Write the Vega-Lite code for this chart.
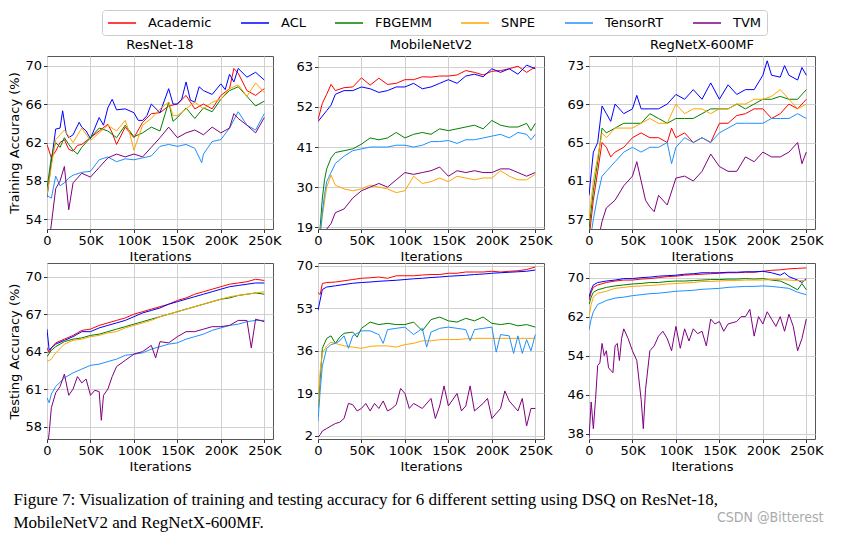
{
"$schema":"https://vega.github.io/schema/vega-lite/v6.json",
"background":"white",
"padding":{"left":8,"right":12,"top":9,"bottom":4},
"title":{"text":"CSDN @Bitterest","orient":"bottom","anchor":"end","font":"Liberation Sans Narrow, DejaVu Sans Condensed, Roboto","fontSize":14,"fontWeight":"normal","color":"#aaaaaa","offset":-20},
"datasets":{
"r18tr":[
{"s":"Academic","x":0,"y":61.8},{"s":"Academic","x":5,"y":60.4},{"s":"Academic","x":10,"y":61.1},{"s":"Academic","x":15,"y":62},{"s":"Academic","x":20,"y":62.3},{"s":"Academic","x":25,"y":61.3},{"s":"Academic","x":30,"y":61.1},{"s":"Academic","x":35,"y":61.7},{"s":"Academic","x":40,"y":61.8},{"s":"Academic","x":50,"y":62.5},{"s":"Academic","x":60,"y":63.2},{"s":"Academic","x":70,"y":63.9},{"s":"Academic","x":75,"y":63},{"s":"Academic","x":80,"y":61.8},{"s":"Academic","x":90,"y":63.6},{"s":"Academic","x":100,"y":62.5},{"s":"Academic","x":110,"y":64.1},{"s":"Academic","x":120,"y":65},{"s":"Academic","x":130,"y":65.1},{"s":"Academic","x":140,"y":65.8},{"s":"Academic","x":150,"y":66},{"s":"Academic","x":160,"y":66.9},{"s":"Academic","x":170,"y":65.5},{"s":"Academic","x":180,"y":66},{"s":"Academic","x":190,"y":65.5},{"s":"Academic","x":200,"y":66.9},{"s":"Academic","x":210,"y":67.6},{"s":"Academic","x":215,"y":69.7},{"s":"Academic","x":220,"y":69.2},{"s":"Academic","x":230,"y":67.4},{"s":"Academic","x":240,"y":66.9},{"s":"Academic","x":250,"y":67.6},
{"s":"ACL","x":0,"y":56.3},{"s":"ACL","x":5,"y":60},{"s":"ACL","x":10,"y":63.4},{"s":"ACL","x":15,"y":63.5},{"s":"ACL","x":18,"y":65.3},{"s":"ACL","x":22,"y":63},{"s":"ACL","x":25,"y":62.5},{"s":"ACL","x":30,"y":62.8},{"s":"ACL","x":37,"y":64.1},{"s":"ACL","x":40,"y":63.6},{"s":"ACL","x":45,"y":63.2},{"s":"ACL","x":50,"y":62.4},{"s":"ACL","x":55,"y":63.5},{"s":"ACL","x":60,"y":64.6},{"s":"ACL","x":65,"y":63.8},{"s":"ACL","x":70,"y":65.6},{"s":"ACL","x":75,"y":66.5},{"s":"ACL","x":80,"y":65.4},{"s":"ACL","x":90,"y":65.5},{"s":"ACL","x":100,"y":65.1},{"s":"ACL","x":105,"y":64.3},{"s":"ACL","x":110,"y":64.3},{"s":"ACL","x":115,"y":64.8},{"s":"ACL","x":120,"y":66},{"s":"ACL","x":130,"y":65.1},{"s":"ACL","x":140,"y":67.6},{"s":"ACL","x":145,"y":66},{"s":"ACL","x":150,"y":66},{"s":"ACL","x":155,"y":66.5},{"s":"ACL","x":160,"y":68.3},{"s":"ACL","x":165,"y":66.4},{"s":"ACL","x":170,"y":66.2},{"s":"ACL","x":175,"y":67.8},{"s":"ACL","x":180,"y":67.4},{"s":"ACL","x":190,"y":67},{"s":"ACL","x":200,"y":68.1},{"s":"ACL","x":205,"y":67.5},{"s":"ACL","x":210,"y":69.1},{"s":"ACL","x":215,"y":68.3},{"s":"ACL","x":220,"y":69.7},{"s":"ACL","x":230,"y":68.8},{"s":"ACL","x":240,"y":69.3},{"s":"ACL","x":245,"y":68.9},{"s":"ACL","x":250,"y":68.5},
{"s":"FBGEMM","x":0,"y":57.2},{"s":"FBGEMM","x":5,"y":60.5},{"s":"FBGEMM","x":10,"y":62},{"s":"FBGEMM","x":15,"y":61.5},{"s":"FBGEMM","x":20,"y":62.5},{"s":"FBGEMM","x":25,"y":61.8},{"s":"FBGEMM","x":30,"y":61.2},{"s":"FBGEMM","x":35,"y":60.8},{"s":"FBGEMM","x":40,"y":61.5},{"s":"FBGEMM","x":50,"y":62.5},{"s":"FBGEMM","x":60,"y":63.5},{"s":"FBGEMM","x":70,"y":63.2},{"s":"FBGEMM","x":80,"y":62.5},{"s":"FBGEMM","x":90,"y":63.8},{"s":"FBGEMM","x":100,"y":62.6},{"s":"FBGEMM","x":110,"y":63},{"s":"FBGEMM","x":120,"y":63.6},{"s":"FBGEMM","x":130,"y":63.2},{"s":"FBGEMM","x":140,"y":66.2},{"s":"FBGEMM","x":145,"y":64.2},{"s":"FBGEMM","x":150,"y":64.6},{"s":"FBGEMM","x":160,"y":65.6},{"s":"FBGEMM","x":170,"y":64.5},{"s":"FBGEMM","x":180,"y":65.6},{"s":"FBGEMM","x":190,"y":65.2},{"s":"FBGEMM","x":200,"y":66.5},{"s":"FBGEMM","x":210,"y":67.4},{"s":"FBGEMM","x":220,"y":67.8},{"s":"FBGEMM","x":230,"y":66.8},{"s":"FBGEMM","x":240,"y":65.8},{"s":"FBGEMM","x":250,"y":66.3},
{"s":"SNPE","x":0,"y":56.5},{"s":"SNPE","x":5,"y":59.5},{"s":"SNPE","x":10,"y":62.3},{"s":"SNPE","x":20,"y":63.3},{"s":"SNPE","x":30,"y":62},{"s":"SNPE","x":40,"y":63.5},{"s":"SNPE","x":50,"y":62.2},{"s":"SNPE","x":60,"y":63},{"s":"SNPE","x":70,"y":63.8},{"s":"SNPE","x":80,"y":63.2},{"s":"SNPE","x":90,"y":64.3},{"s":"SNPE","x":95,"y":63},{"s":"SNPE","x":100,"y":61.2},{"s":"SNPE","x":105,"y":62.5},{"s":"SNPE","x":110,"y":63.8},{"s":"SNPE","x":120,"y":64.5},{"s":"SNPE","x":130,"y":65.5},{"s":"SNPE","x":140,"y":66.2},{"s":"SNPE","x":145,"y":64.8},{"s":"SNPE","x":150,"y":64.8},{"s":"SNPE","x":160,"y":65.5},{"s":"SNPE","x":170,"y":66.2},{"s":"SNPE","x":180,"y":65.5},{"s":"SNPE","x":190,"y":66.2},{"s":"SNPE","x":200,"y":66.5},{"s":"SNPE","x":210,"y":67.6},{"s":"SNPE","x":220,"y":68},{"s":"SNPE","x":230,"y":66.8},{"s":"SNPE","x":240,"y":68.2},{"s":"SNPE","x":250,"y":67.2},
{"s":"TensorRT","x":0,"y":56.5},{"s":"TensorRT","x":5,"y":56.2},{"s":"TensorRT","x":10,"y":58.5},{"s":"TensorRT","x":15,"y":57.5},{"s":"TensorRT","x":20,"y":57.8},{"s":"TensorRT","x":25,"y":58.3},{"s":"TensorRT","x":30,"y":58.6},{"s":"TensorRT","x":40,"y":58.9},{"s":"TensorRT","x":50,"y":59},{"s":"TensorRT","x":60,"y":60.2},{"s":"TensorRT","x":70,"y":60.5},{"s":"TensorRT","x":80,"y":60},{"s":"TensorRT","x":90,"y":60.3},{"s":"TensorRT","x":100,"y":60.2},{"s":"TensorRT","x":110,"y":60.4},{"s":"TensorRT","x":120,"y":60.6},{"s":"TensorRT","x":130,"y":61.6},{"s":"TensorRT","x":140,"y":61.8},{"s":"TensorRT","x":150,"y":61.6},{"s":"TensorRT","x":160,"y":61.8},{"s":"TensorRT","x":170,"y":61.4},{"s":"TensorRT","x":178,"y":59.9},{"s":"TensorRT","x":180,"y":60.8},{"s":"TensorRT","x":190,"y":62.1},{"s":"TensorRT","x":200,"y":62.3},{"s":"TensorRT","x":210,"y":63.5},{"s":"TensorRT","x":220,"y":65.2},{"s":"TensorRT","x":230,"y":63.8},{"s":"TensorRT","x":240,"y":63.3},{"s":"TensorRT","x":250,"y":65},
{"s":"TVM","x":0,"y":50},{"s":"TVM","x":5,"y":53.5},{"s":"TVM","x":10,"y":57.2},{"s":"TVM","x":15,"y":58},{"s":"TVM","x":20,"y":59.5},{"s":"TVM","x":25,"y":55},{"s":"TVM","x":30,"y":57.8},{"s":"TVM","x":40,"y":58.8},{"s":"TVM","x":50,"y":58.4},{"s":"TVM","x":60,"y":59.4},{"s":"TVM","x":70,"y":60.4},{"s":"TVM","x":80,"y":60.8},{"s":"TVM","x":90,"y":60.5},{"s":"TVM","x":100,"y":60.8},{"s":"TVM","x":110,"y":60.5},{"s":"TVM","x":120,"y":61.5},{"s":"TVM","x":130,"y":62.5},{"s":"TVM","x":140,"y":63.6},{"s":"TVM","x":150,"y":62.5},{"s":"TVM","x":160,"y":63},{"s":"TVM","x":170,"y":63.3},{"s":"TVM","x":180,"y":62.8},{"s":"TVM","x":190,"y":63.6},{"s":"TVM","x":200,"y":63},{"s":"TVM","x":210,"y":63.5},{"s":"TVM","x":215,"y":65},{"s":"TVM","x":220,"y":64.5},{"s":"TVM","x":230,"y":63.8},{"s":"TVM","x":240,"y":63},{"s":"TVM","x":250,"y":64.6}
],
"mbtr":[
{"s":"Academic","x":0,"y":48.5},{"s":"Academic","x":5,"y":53},{"s":"Academic","x":10,"y":55.5},{"s":"Academic","x":15,"y":58.2},{"s":"Academic","x":20,"y":56.5},{"s":"Academic","x":30,"y":57.3},{"s":"Academic","x":40,"y":57.5},{"s":"Academic","x":50,"y":60},{"s":"Academic","x":60,"y":58},{"s":"Academic","x":70,"y":59.9},{"s":"Academic","x":80,"y":58.2},{"s":"Academic","x":90,"y":58.5},{"s":"Academic","x":100,"y":59.5},{"s":"Academic","x":110,"y":59.5},{"s":"Academic","x":120,"y":60.3},{"s":"Academic","x":130,"y":60.2},{"s":"Academic","x":140,"y":60.5},{"s":"Academic","x":150,"y":60.5},{"s":"Academic","x":160,"y":60.8},{"s":"Academic","x":170,"y":62},{"s":"Academic","x":180,"y":61.5},{"s":"Academic","x":190,"y":60.8},{"s":"Academic","x":200,"y":61.8},{"s":"Academic","x":210,"y":62},{"s":"Academic","x":220,"y":62.5},{"s":"Academic","x":230,"y":63.2},{"s":"Academic","x":240,"y":61.5},{"s":"Academic","x":250,"y":63},
{"s":"ACL","x":0,"y":48},{"s":"ACL","x":5,"y":49.5},{"s":"ACL","x":10,"y":51},{"s":"ACL","x":15,"y":52.5},{"s":"ACL","x":20,"y":55.5},{"s":"ACL","x":30,"y":56.5},{"s":"ACL","x":40,"y":56.5},{"s":"ACL","x":50,"y":57.5},{"s":"ACL","x":60,"y":57},{"s":"ACL","x":70,"y":56},{"s":"ACL","x":80,"y":56.5},{"s":"ACL","x":90,"y":57.5},{"s":"ACL","x":100,"y":57.5},{"s":"ACL","x":110,"y":58.5},{"s":"ACL","x":120,"y":57},{"s":"ACL","x":130,"y":57.5},{"s":"ACL","x":140,"y":58.5},{"s":"ACL","x":150,"y":59.5},{"s":"ACL","x":160,"y":58.5},{"s":"ACL","x":170,"y":60.5},{"s":"ACL","x":180,"y":61},{"s":"ACL","x":190,"y":60.3},{"s":"ACL","x":200,"y":62.5},{"s":"ACL","x":210,"y":61.5},{"s":"ACL","x":220,"y":62.5},{"s":"ACL","x":230,"y":61},{"s":"ACL","x":240,"y":63.5},{"s":"ACL","x":250,"y":62.5},
{"s":"FBGEMM","x":0,"y":13},{"s":"FBGEMM","x":2.5,"y":19},{"s":"FBGEMM","x":5,"y":27},{"s":"FBGEMM","x":7.5,"y":32},{"s":"FBGEMM","x":10,"y":35},{"s":"FBGEMM","x":15,"y":38},{"s":"FBGEMM","x":20,"y":39.5},{"s":"FBGEMM","x":30,"y":40},{"s":"FBGEMM","x":40,"y":40.5},{"s":"FBGEMM","x":50,"y":41.8},{"s":"FBGEMM","x":60,"y":43.5},{"s":"FBGEMM","x":70,"y":43},{"s":"FBGEMM","x":80,"y":43.5},{"s":"FBGEMM","x":90,"y":45},{"s":"FBGEMM","x":100,"y":43.5},{"s":"FBGEMM","x":110,"y":44.5},{"s":"FBGEMM","x":120,"y":45},{"s":"FBGEMM","x":130,"y":44.5},{"s":"FBGEMM","x":140,"y":46},{"s":"FBGEMM","x":150,"y":45.5},{"s":"FBGEMM","x":160,"y":46},{"s":"FBGEMM","x":170,"y":46.5},{"s":"FBGEMM","x":180,"y":47},{"s":"FBGEMM","x":190,"y":46},{"s":"FBGEMM","x":200,"y":48.3},{"s":"FBGEMM","x":210,"y":47},{"s":"FBGEMM","x":220,"y":46.5},{"s":"FBGEMM","x":230,"y":46.5},{"s":"FBGEMM","x":240,"y":47.5},{"s":"FBGEMM","x":245,"y":45.5},{"s":"FBGEMM","x":250,"y":47.5},
{"s":"SNPE","x":0,"y":13},{"s":"SNPE","x":5,"y":22},{"s":"SNPE","x":10,"y":30},{"s":"SNPE","x":15,"y":33.3},{"s":"SNPE","x":20,"y":30.5},{"s":"SNPE","x":30,"y":29.5},{"s":"SNPE","x":40,"y":29},{"s":"SNPE","x":50,"y":29.5},{"s":"SNPE","x":60,"y":30.5},{"s":"SNPE","x":70,"y":30},{"s":"SNPE","x":80,"y":29.5},{"s":"SNPE","x":90,"y":28.5},{"s":"SNPE","x":100,"y":29},{"s":"SNPE","x":110,"y":33},{"s":"SNPE","x":120,"y":31},{"s":"SNPE","x":130,"y":31.5},{"s":"SNPE","x":140,"y":32.5},{"s":"SNPE","x":150,"y":31.5},{"s":"SNPE","x":160,"y":33},{"s":"SNPE","x":170,"y":32.5},{"s":"SNPE","x":180,"y":32},{"s":"SNPE","x":190,"y":32.5},{"s":"SNPE","x":200,"y":32.5},{"s":"SNPE","x":210,"y":34.5},{"s":"SNPE","x":220,"y":33},{"s":"SNPE","x":230,"y":32},{"s":"SNPE","x":240,"y":32},{"s":"SNPE","x":250,"y":33.5},
{"s":"TensorRT","x":0,"y":13},{"s":"TensorRT","x":2.5,"y":17},{"s":"TensorRT","x":5,"y":23},{"s":"TensorRT","x":7.5,"y":28},{"s":"TensorRT","x":10,"y":31.5},{"s":"TensorRT","x":15,"y":34},{"s":"TensorRT","x":20,"y":36.5},{"s":"TensorRT","x":30,"y":38.5},{"s":"TensorRT","x":40,"y":40},{"s":"TensorRT","x":50,"y":40.5},{"s":"TensorRT","x":60,"y":41},{"s":"TensorRT","x":70,"y":41},{"s":"TensorRT","x":80,"y":41},{"s":"TensorRT","x":90,"y":41.5},{"s":"TensorRT","x":100,"y":41.5},{"s":"TensorRT","x":110,"y":41},{"s":"TensorRT","x":120,"y":41.5},{"s":"TensorRT","x":130,"y":42.5},{"s":"TensorRT","x":140,"y":42.5},{"s":"TensorRT","x":150,"y":42.8},{"s":"TensorRT","x":160,"y":42},{"s":"TensorRT","x":170,"y":43},{"s":"TensorRT","x":180,"y":43},{"s":"TensorRT","x":190,"y":43.5},{"s":"TensorRT","x":200,"y":44},{"s":"TensorRT","x":210,"y":44.5},{"s":"TensorRT","x":220,"y":43.5},{"s":"TensorRT","x":230,"y":45},{"s":"TensorRT","x":240,"y":44.5},{"s":"TensorRT","x":245,"y":43},{"s":"TensorRT","x":250,"y":44.5},
{"s":"TVM","x":0,"y":10},{"s":"TVM","x":5,"y":14},{"s":"TVM","x":10,"y":18.5},{"s":"TVM","x":15,"y":20},{"s":"TVM","x":20,"y":23},{"s":"TVM","x":30,"y":24},{"s":"TVM","x":40,"y":27},{"s":"TVM","x":50,"y":29},{"s":"TVM","x":60,"y":30},{"s":"TVM","x":70,"y":31},{"s":"TVM","x":80,"y":30},{"s":"TVM","x":90,"y":32},{"s":"TVM","x":100,"y":34},{"s":"TVM","x":110,"y":33.5},{"s":"TVM","x":120,"y":34},{"s":"TVM","x":130,"y":34.5},{"s":"TVM","x":140,"y":35.5},{"s":"TVM","x":150,"y":33},{"s":"TVM","x":160,"y":34.5},{"s":"TVM","x":170,"y":34},{"s":"TVM","x":180,"y":34.5},{"s":"TVM","x":190,"y":34},{"s":"TVM","x":200,"y":34},{"s":"TVM","x":210,"y":35},{"s":"TVM","x":220,"y":35},{"s":"TVM","x":230,"y":34},{"s":"TVM","x":240,"y":33},{"s":"TVM","x":250,"y":34}
],
"rgtr":[
{"s":"Academic","x":0,"y":55},{"s":"Academic","x":5,"y":59},{"s":"Academic","x":10,"y":62},{"s":"Academic","x":15,"y":65},{"s":"Academic","x":20,"y":64.5},{"s":"Academic","x":25,"y":63.5},{"s":"Academic","x":30,"y":64},{"s":"Academic","x":40,"y":64.5},{"s":"Academic","x":50,"y":65.5},{"s":"Academic","x":60,"y":66},{"s":"Academic","x":70,"y":65.5},{"s":"Academic","x":80,"y":65.5},{"s":"Academic","x":90,"y":65},{"s":"Academic","x":95,"y":66.5},{"s":"Academic","x":100,"y":65.5},{"s":"Academic","x":110,"y":66},{"s":"Academic","x":120,"y":65},{"s":"Academic","x":130,"y":65.5},{"s":"Academic","x":140,"y":65},{"s":"Academic","x":150,"y":67},{"s":"Academic","x":160,"y":67},{"s":"Academic","x":170,"y":67.8},{"s":"Academic","x":180,"y":68},{"s":"Academic","x":190,"y":68.5},{"s":"Academic","x":200,"y":68.5},{"s":"Academic","x":210,"y":67.5},{"s":"Academic","x":220,"y":68},{"s":"Academic","x":230,"y":69},{"s":"Academic","x":240,"y":68.5},{"s":"Academic","x":250,"y":69.5},
{"s":"ACL","x":0,"y":59.5},{"s":"ACL","x":5,"y":64},{"s":"ACL","x":10,"y":65},{"s":"ACL","x":15,"y":68.8},{"s":"ACL","x":20,"y":68},{"s":"ACL","x":25,"y":67.2},{"s":"ACL","x":30,"y":69},{"s":"ACL","x":40,"y":68},{"s":"ACL","x":50,"y":68.5},{"s":"ACL","x":55,"y":69.9},{"s":"ACL","x":60,"y":68.5},{"s":"ACL","x":70,"y":68.5},{"s":"ACL","x":80,"y":68.5},{"s":"ACL","x":90,"y":69},{"s":"ACL","x":100,"y":70},{"s":"ACL","x":110,"y":69.5},{"s":"ACL","x":120,"y":70.5},{"s":"ACL","x":130,"y":69.5},{"s":"ACL","x":140,"y":71.2},{"s":"ACL","x":150,"y":69.5},{"s":"ACL","x":160,"y":71},{"s":"ACL","x":170,"y":70},{"s":"ACL","x":180,"y":70.5},{"s":"ACL","x":190,"y":70.5},{"s":"ACL","x":200,"y":72},{"s":"ACL","x":205,"y":73.5},{"s":"ACL","x":210,"y":72},{"s":"ACL","x":220,"y":71.8},{"s":"ACL","x":225,"y":73},{"s":"ACL","x":230,"y":72},{"s":"ACL","x":240,"y":71.5},{"s":"ACL","x":245,"y":72.8},{"s":"ACL","x":250,"y":72},
{"s":"FBGEMM","x":0,"y":56},{"s":"FBGEMM","x":5,"y":60},{"s":"FBGEMM","x":10,"y":63},{"s":"FBGEMM","x":15,"y":66.5},{"s":"FBGEMM","x":20,"y":66},{"s":"FBGEMM","x":30,"y":66.5},{"s":"FBGEMM","x":40,"y":67},{"s":"FBGEMM","x":50,"y":67},{"s":"FBGEMM","x":60,"y":67},{"s":"FBGEMM","x":70,"y":68},{"s":"FBGEMM","x":80,"y":67.5},{"s":"FBGEMM","x":90,"y":67},{"s":"FBGEMM","x":100,"y":67.5},{"s":"FBGEMM","x":110,"y":67.5},{"s":"FBGEMM","x":120,"y":67.5},{"s":"FBGEMM","x":130,"y":68},{"s":"FBGEMM","x":140,"y":68.5},{"s":"FBGEMM","x":150,"y":68.5},{"s":"FBGEMM","x":160,"y":68.5},{"s":"FBGEMM","x":170,"y":69},{"s":"FBGEMM","x":180,"y":68.5},{"s":"FBGEMM","x":190,"y":69},{"s":"FBGEMM","x":200,"y":69.5},{"s":"FBGEMM","x":210,"y":69.5},{"s":"FBGEMM","x":220,"y":69.8},{"s":"FBGEMM","x":230,"y":69.5},{"s":"FBGEMM","x":240,"y":69.5},{"s":"FBGEMM","x":250,"y":70.5},
{"s":"SNPE","x":0,"y":57},{"s":"SNPE","x":5,"y":61},{"s":"SNPE","x":10,"y":63.5},{"s":"SNPE","x":15,"y":66},{"s":"SNPE","x":20,"y":65.5},{"s":"SNPE","x":30,"y":66.5},{"s":"SNPE","x":40,"y":66.5},{"s":"SNPE","x":50,"y":66.5},{"s":"SNPE","x":60,"y":67},{"s":"SNPE","x":70,"y":67.5},{"s":"SNPE","x":80,"y":67},{"s":"SNPE","x":90,"y":67},{"s":"SNPE","x":100,"y":69},{"s":"SNPE","x":110,"y":68},{"s":"SNPE","x":120,"y":68.5},{"s":"SNPE","x":130,"y":68.5},{"s":"SNPE","x":140,"y":68},{"s":"SNPE","x":150,"y":68.5},{"s":"SNPE","x":160,"y":68.5},{"s":"SNPE","x":170,"y":69},{"s":"SNPE","x":180,"y":69},{"s":"SNPE","x":190,"y":69.5},{"s":"SNPE","x":200,"y":69.5},{"s":"SNPE","x":210,"y":69.8},{"s":"SNPE","x":220,"y":70.5},{"s":"SNPE","x":230,"y":69.5},{"s":"SNPE","x":240,"y":68.5},{"s":"SNPE","x":250,"y":69},
{"s":"TensorRT","x":0,"y":54},{"s":"TensorRT","x":5,"y":57},{"s":"TensorRT","x":10,"y":59.5},{"s":"TensorRT","x":15,"y":61.5},{"s":"TensorRT","x":20,"y":62},{"s":"TensorRT","x":30,"y":63},{"s":"TensorRT","x":40,"y":64},{"s":"TensorRT","x":50,"y":64.5},{"s":"TensorRT","x":60,"y":64},{"s":"TensorRT","x":70,"y":64.5},{"s":"TensorRT","x":80,"y":64.5},{"s":"TensorRT","x":90,"y":65},{"s":"TensorRT","x":95,"y":62.8},{"s":"TensorRT","x":100,"y":64.5},{"s":"TensorRT","x":110,"y":65.5},{"s":"TensorRT","x":120,"y":65},{"s":"TensorRT","x":130,"y":65.5},{"s":"TensorRT","x":140,"y":65},{"s":"TensorRT","x":150,"y":66},{"s":"TensorRT","x":160,"y":66.5},{"s":"TensorRT","x":170,"y":67},{"s":"TensorRT","x":180,"y":67},{"s":"TensorRT","x":190,"y":67},{"s":"TensorRT","x":200,"y":67},{"s":"TensorRT","x":210,"y":67.5},{"s":"TensorRT","x":220,"y":67.5},{"s":"TensorRT","x":230,"y":67.5},{"s":"TensorRT","x":240,"y":68},{"s":"TensorRT","x":250,"y":67.5},
{"s":"TVM","x":0,"y":50},{"s":"TVM","x":15,"y":56.8},{"s":"TVM","x":20,"y":58.2},{"s":"TVM","x":30,"y":59},{"s":"TVM","x":40,"y":60.5},{"s":"TVM","x":50,"y":61.5},{"s":"TVM","x":55,"y":63},{"s":"TVM","x":60,"y":61},{"s":"TVM","x":65,"y":59},{"s":"TVM","x":70,"y":58.3},{"s":"TVM","x":75,"y":57.8},{"s":"TVM","x":80,"y":59.5},{"s":"TVM","x":90,"y":58.5},{"s":"TVM","x":100,"y":61.3},{"s":"TVM","x":110,"y":61.5},{"s":"TVM","x":120,"y":61},{"s":"TVM","x":130,"y":62},{"s":"TVM","x":140,"y":63.8},{"s":"TVM","x":150,"y":62.5},{"s":"TVM","x":160,"y":62},{"s":"TVM","x":170,"y":62},{"s":"TVM","x":180,"y":63.5},{"s":"TVM","x":190,"y":63},{"s":"TVM","x":200,"y":64},{"s":"TVM","x":210,"y":63.5},{"s":"TVM","x":220,"y":63.5},{"s":"TVM","x":230,"y":64},{"s":"TVM","x":240,"y":65},{"s":"TVM","x":245,"y":62.8},{"s":"TVM","x":250,"y":64}
],
"r18te":[
{"s":"Academic","x":0,"y":64.3},{"s":"Academic","x":2.5,"y":63.9},{"s":"Academic","x":5,"y":64.3},{"s":"Academic","x":10,"y":64.7},{"s":"Academic","x":20,"y":65},{"s":"Academic","x":30,"y":65.3},{"s":"Academic","x":40,"y":65.7},{"s":"Academic","x":50,"y":65.8},{"s":"Academic","x":60,"y":66.1},{"s":"Academic","x":70,"y":66.3},{"s":"Academic","x":80,"y":66.5},{"s":"Academic","x":90,"y":66.7},{"s":"Academic","x":100,"y":67},{"s":"Academic","x":110,"y":67.2},{"s":"Academic","x":120,"y":67.4},{"s":"Academic","x":130,"y":67.6},{"s":"Academic","x":140,"y":67.8},{"s":"Academic","x":150,"y":68.1},{"s":"Academic","x":160,"y":68.3},{"s":"Academic","x":170,"y":68.6},{"s":"Academic","x":180,"y":68.8},{"s":"Academic","x":190,"y":69},{"s":"Academic","x":200,"y":69.2},{"s":"Academic","x":210,"y":69.4},{"s":"Academic","x":220,"y":69.5},{"s":"Academic","x":230,"y":69.6},{"s":"Academic","x":240,"y":69.8},{"s":"Academic","x":250,"y":69.7},
{"s":"ACL","x":0,"y":65.8},{"s":"ACL","x":2.5,"y":64.1},{"s":"ACL","x":5,"y":64.3},{"s":"ACL","x":10,"y":64.6},{"s":"ACL","x":20,"y":64.9},{"s":"ACL","x":30,"y":65.2},{"s":"ACL","x":40,"y":65.6},{"s":"ACL","x":50,"y":65.6},{"s":"ACL","x":60,"y":65.9},{"s":"ACL","x":70,"y":66.1},{"s":"ACL","x":80,"y":66.3},{"s":"ACL","x":90,"y":66.5},{"s":"ACL","x":100,"y":66.8},{"s":"ACL","x":110,"y":67.1},{"s":"ACL","x":120,"y":67.3},{"s":"ACL","x":130,"y":67.5},{"s":"ACL","x":140,"y":67.8},{"s":"ACL","x":150,"y":68},{"s":"ACL","x":160,"y":68.2},{"s":"ACL","x":170,"y":68.4},{"s":"ACL","x":180,"y":68.6},{"s":"ACL","x":190,"y":68.8},{"s":"ACL","x":200,"y":69},{"s":"ACL","x":210,"y":69.2},{"s":"ACL","x":220,"y":69.3},{"s":"ACL","x":230,"y":69.4},{"s":"ACL","x":240,"y":69.5},{"s":"ACL","x":250,"y":69.5},
{"s":"FBGEMM","x":0,"y":63.6},{"s":"FBGEMM","x":5,"y":64.1},{"s":"FBGEMM","x":10,"y":64.4},{"s":"FBGEMM","x":20,"y":64.8},{"s":"FBGEMM","x":30,"y":65},{"s":"FBGEMM","x":40,"y":65.1},{"s":"FBGEMM","x":50,"y":65.3},{"s":"FBGEMM","x":60,"y":65.4},{"s":"FBGEMM","x":70,"y":65.6},{"s":"FBGEMM","x":80,"y":65.8},{"s":"FBGEMM","x":90,"y":66},{"s":"FBGEMM","x":100,"y":66.2},{"s":"FBGEMM","x":110,"y":66.4},{"s":"FBGEMM","x":120,"y":66.6},{"s":"FBGEMM","x":130,"y":66.8},{"s":"FBGEMM","x":140,"y":67},{"s":"FBGEMM","x":150,"y":67.2},{"s":"FBGEMM","x":160,"y":67.4},{"s":"FBGEMM","x":170,"y":67.6},{"s":"FBGEMM","x":180,"y":67.8},{"s":"FBGEMM","x":190,"y":68},{"s":"FBGEMM","x":200,"y":68.2},{"s":"FBGEMM","x":210,"y":68.3},{"s":"FBGEMM","x":220,"y":68.5},{"s":"FBGEMM","x":230,"y":68.6},{"s":"FBGEMM","x":240,"y":68.7},{"s":"FBGEMM","x":250,"y":68.6},
{"s":"SNPE","x":0,"y":63.2},{"s":"SNPE","x":5,"y":63.4},{"s":"SNPE","x":10,"y":63.9},{"s":"SNPE","x":20,"y":64.6},{"s":"SNPE","x":30,"y":64.9},{"s":"SNPE","x":40,"y":65},{"s":"SNPE","x":50,"y":65.2},{"s":"SNPE","x":60,"y":65.3},{"s":"SNPE","x":70,"y":65.5},{"s":"SNPE","x":80,"y":65.6},{"s":"SNPE","x":90,"y":65.9},{"s":"SNPE","x":100,"y":66.1},{"s":"SNPE","x":110,"y":66.3},{"s":"SNPE","x":120,"y":66.5},{"s":"SNPE","x":130,"y":66.8},{"s":"SNPE","x":140,"y":67},{"s":"SNPE","x":150,"y":67.2},{"s":"SNPE","x":160,"y":67.4},{"s":"SNPE","x":170,"y":67.6},{"s":"SNPE","x":180,"y":67.8},{"s":"SNPE","x":190,"y":68},{"s":"SNPE","x":200,"y":68.2},{"s":"SNPE","x":210,"y":68.4},{"s":"SNPE","x":220,"y":68.5},{"s":"SNPE","x":230,"y":68.6},{"s":"SNPE","x":240,"y":68.7},{"s":"SNPE","x":250,"y":68.8},
{"s":"TensorRT","x":0,"y":60.3},{"s":"TensorRT","x":2.5,"y":59.9},{"s":"TensorRT","x":5,"y":60.6},{"s":"TensorRT","x":10,"y":61.2},{"s":"TensorRT","x":20,"y":61.9},{"s":"TensorRT","x":30,"y":62.3},{"s":"TensorRT","x":40,"y":62.6},{"s":"TensorRT","x":50,"y":62.9},{"s":"TensorRT","x":60,"y":63},{"s":"TensorRT","x":70,"y":63.2},{"s":"TensorRT","x":80,"y":63.4},{"s":"TensorRT","x":90,"y":63.7},{"s":"TensorRT","x":100,"y":63.8},{"s":"TensorRT","x":110,"y":63.9},{"s":"TensorRT","x":120,"y":64.2},{"s":"TensorRT","x":130,"y":64.4},{"s":"TensorRT","x":140,"y":64.6},{"s":"TensorRT","x":150,"y":64.7},{"s":"TensorRT","x":160,"y":65},{"s":"TensorRT","x":170,"y":65.2},{"s":"TensorRT","x":180,"y":65.4},{"s":"TensorRT","x":190,"y":65.7},{"s":"TensorRT","x":200,"y":65.9},{"s":"TensorRT","x":210,"y":66.1},{"s":"TensorRT","x":220,"y":66.2},{"s":"TensorRT","x":230,"y":66.4},{"s":"TensorRT","x":240,"y":66.5},{"s":"TensorRT","x":250,"y":66.5},
{"s":"TVM","x":0,"y":56},{"s":"TVM","x":2.5,"y":57.5},{"s":"TVM","x":5,"y":59.5},{"s":"TVM","x":10,"y":60.7},{"s":"TVM","x":15,"y":61.2},{"s":"TVM","x":20,"y":62.2},{"s":"TVM","x":25,"y":60.5},{"s":"TVM","x":30,"y":61},{"s":"TVM","x":35,"y":62},{"s":"TVM","x":40,"y":61.5},{"s":"TVM","x":45,"y":61.8},{"s":"TVM","x":50,"y":60.5},{"s":"TVM","x":55,"y":60.9},{"s":"TVM","x":60,"y":60.8},{"s":"TVM","x":62.5,"y":58.5},{"s":"TVM","x":65,"y":60.5},{"s":"TVM","x":70,"y":61},{"s":"TVM","x":75,"y":62},{"s":"TVM","x":80,"y":62.8},{"s":"TVM","x":90,"y":63.3},{"s":"TVM","x":100,"y":63.8},{"s":"TVM","x":110,"y":64},{"s":"TVM","x":120,"y":64.5},{"s":"TVM","x":125,"y":63.5},{"s":"TVM","x":130,"y":64.8},{"s":"TVM","x":140,"y":64.7},{"s":"TVM","x":150,"y":65.2},{"s":"TVM","x":160,"y":65.6},{"s":"TVM","x":170,"y":65.6},{"s":"TVM","x":180,"y":65.8},{"s":"TVM","x":190,"y":66},{"s":"TVM","x":200,"y":66},{"s":"TVM","x":210,"y":66.1},{"s":"TVM","x":220,"y":66.5},{"s":"TVM","x":230,"y":66.5},{"s":"TVM","x":235,"y":64.3},{"s":"TVM","x":240,"y":66.6},{"s":"TVM","x":250,"y":66.4}
],
"mbte":[
{"s":"Academic","x":0,"y":59.3},{"s":"Academic","x":2.5,"y":58.5},{"s":"Academic","x":5,"y":62.9},{"s":"Academic","x":10,"y":63.3},{"s":"Academic","x":20,"y":63.5},{"s":"Academic","x":30,"y":64},{"s":"Academic","x":40,"y":64.5},{"s":"Academic","x":50,"y":65},{"s":"Academic","x":60,"y":65.2},{"s":"Academic","x":70,"y":65.5},{"s":"Academic","x":80,"y":65},{"s":"Academic","x":90,"y":66},{"s":"Academic","x":100,"y":66},{"s":"Academic","x":110,"y":66},{"s":"Academic","x":120,"y":66.3},{"s":"Academic","x":130,"y":66.5},{"s":"Academic","x":140,"y":66.5},{"s":"Academic","x":150,"y":67},{"s":"Academic","x":160,"y":67},{"s":"Academic","x":170,"y":67.5},{"s":"Academic","x":180,"y":67.5},{"s":"Academic","x":190,"y":67.5},{"s":"Academic","x":200,"y":67.8},{"s":"Academic","x":210,"y":67.5},{"s":"Academic","x":220,"y":67.8},{"s":"Academic","x":230,"y":68},{"s":"Academic","x":240,"y":68.5},{"s":"Academic","x":250,"y":69.5},
{"s":"ACL","x":0,"y":52.2},{"s":"ACL","x":5,"y":60.5},{"s":"ACL","x":10,"y":61.5},{"s":"ACL","x":20,"y":62},{"s":"ACL","x":30,"y":62.5},{"s":"ACL","x":40,"y":63},{"s":"ACL","x":50,"y":63.3},{"s":"ACL","x":60,"y":63.5},{"s":"ACL","x":70,"y":63.8},{"s":"ACL","x":80,"y":64},{"s":"ACL","x":90,"y":64.2},{"s":"ACL","x":100,"y":64.5},{"s":"ACL","x":110,"y":64.8},{"s":"ACL","x":120,"y":65},{"s":"ACL","x":130,"y":65.3},{"s":"ACL","x":140,"y":65.5},{"s":"ACL","x":150,"y":65.8},{"s":"ACL","x":160,"y":66},{"s":"ACL","x":170,"y":66.2},{"s":"ACL","x":180,"y":66.5},{"s":"ACL","x":190,"y":66.7},{"s":"ACL","x":200,"y":67},{"s":"ACL","x":210,"y":67.2},{"s":"ACL","x":220,"y":67.4},{"s":"ACL","x":230,"y":67.6},{"s":"ACL","x":240,"y":67.8},{"s":"ACL","x":250,"y":68.3},
{"s":"FBGEMM","x":0,"y":13.4},{"s":"FBGEMM","x":2.5,"y":25},{"s":"FBGEMM","x":5,"y":37},{"s":"FBGEMM","x":10,"y":41},{"s":"FBGEMM","x":15,"y":42},{"s":"FBGEMM","x":20,"y":39},{"s":"FBGEMM","x":25,"y":41.5},{"s":"FBGEMM","x":30,"y":43},{"s":"FBGEMM","x":40,"y":43.5},{"s":"FBGEMM","x":45,"y":41.5},{"s":"FBGEMM","x":50,"y":45},{"s":"FBGEMM","x":60,"y":47.5},{"s":"FBGEMM","x":70,"y":46.5},{"s":"FBGEMM","x":80,"y":47},{"s":"FBGEMM","x":90,"y":46.5},{"s":"FBGEMM","x":100,"y":46.5},{"s":"FBGEMM","x":110,"y":47.5},{"s":"FBGEMM","x":120,"y":44},{"s":"FBGEMM","x":130,"y":48.5},{"s":"FBGEMM","x":140,"y":49.5},{"s":"FBGEMM","x":150,"y":48},{"s":"FBGEMM","x":160,"y":47.5},{"s":"FBGEMM","x":170,"y":49},{"s":"FBGEMM","x":180,"y":48},{"s":"FBGEMM","x":190,"y":49.5},{"s":"FBGEMM","x":200,"y":47},{"s":"FBGEMM","x":210,"y":46.5},{"s":"FBGEMM","x":220,"y":47},{"s":"FBGEMM","x":230,"y":46},{"s":"FBGEMM","x":240,"y":46.5},{"s":"FBGEMM","x":250,"y":45.5},
{"s":"SNPE","x":0,"y":14},{"s":"SNPE","x":2.5,"y":28},{"s":"SNPE","x":5,"y":35},{"s":"SNPE","x":10,"y":38},{"s":"SNPE","x":15,"y":39.5},{"s":"SNPE","x":20,"y":39},{"s":"SNPE","x":30,"y":38},{"s":"SNPE","x":40,"y":37.5},{"s":"SNPE","x":50,"y":37},{"s":"SNPE","x":60,"y":37.8},{"s":"SNPE","x":70,"y":38},{"s":"SNPE","x":80,"y":38},{"s":"SNPE","x":90,"y":37.5},{"s":"SNPE","x":100,"y":38.5},{"s":"SNPE","x":110,"y":39},{"s":"SNPE","x":120,"y":40},{"s":"SNPE","x":130,"y":40},{"s":"SNPE","x":140,"y":40.5},{"s":"SNPE","x":150,"y":40.5},{"s":"SNPE","x":160,"y":40.5},{"s":"SNPE","x":170,"y":40.8},{"s":"SNPE","x":180,"y":41},{"s":"SNPE","x":190,"y":41},{"s":"SNPE","x":200,"y":41},{"s":"SNPE","x":210,"y":41},{"s":"SNPE","x":220,"y":41},{"s":"SNPE","x":230,"y":41},{"s":"SNPE","x":240,"y":41},{"s":"SNPE","x":250,"y":41},
{"s":"TensorRT","x":0,"y":8},{"s":"TensorRT","x":2.5,"y":20},{"s":"TensorRT","x":5,"y":30},{"s":"TensorRT","x":10,"y":37},{"s":"TensorRT","x":15,"y":38.5},{"s":"TensorRT","x":20,"y":39},{"s":"TensorRT","x":25,"y":40},{"s":"TensorRT","x":30,"y":42},{"s":"TensorRT","x":35,"y":37},{"s":"TensorRT","x":40,"y":42},{"s":"TensorRT","x":50,"y":44},{"s":"TensorRT","x":60,"y":44},{"s":"TensorRT","x":70,"y":42.5},{"s":"TensorRT","x":75,"y":39},{"s":"TensorRT","x":80,"y":44.5},{"s":"TensorRT","x":90,"y":45},{"s":"TensorRT","x":100,"y":45.5},{"s":"TensorRT","x":110,"y":42.5},{"s":"TensorRT","x":120,"y":45},{"s":"TensorRT","x":125,"y":37.5},{"s":"TensorRT","x":130,"y":43.5},{"s":"TensorRT","x":140,"y":45},{"s":"TensorRT","x":150,"y":45.5},{"s":"TensorRT","x":160,"y":45},{"s":"TensorRT","x":170,"y":44.5},{"s":"TensorRT","x":175,"y":40},{"s":"TensorRT","x":180,"y":44.5},{"s":"TensorRT","x":190,"y":45},{"s":"TensorRT","x":200,"y":45.5},{"s":"TensorRT","x":205,"y":35.5},{"s":"TensorRT","x":210,"y":42.5},{"s":"TensorRT","x":220,"y":42},{"s":"TensorRT","x":225,"y":35},{"s":"TensorRT","x":230,"y":42},{"s":"TensorRT","x":235,"y":35},{"s":"TensorRT","x":240,"y":40.5},{"s":"TensorRT","x":245,"y":36},{"s":"TensorRT","x":250,"y":42.5},
{"s":"TVM","x":0,"y":1.5},{"s":"TVM","x":2.5,"y":2.5},{"s":"TVM","x":5,"y":4},{"s":"TVM","x":10,"y":5},{"s":"TVM","x":15,"y":6},{"s":"TVM","x":20,"y":7},{"s":"TVM","x":25,"y":7.5},{"s":"TVM","x":30,"y":9},{"s":"TVM","x":35,"y":15},{"s":"TVM","x":40,"y":14.5},{"s":"TVM","x":45,"y":12},{"s":"TVM","x":50,"y":13},{"s":"TVM","x":55,"y":15},{"s":"TVM","x":60,"y":12},{"s":"TVM","x":65,"y":15},{"s":"TVM","x":70,"y":13},{"s":"TVM","x":75,"y":16},{"s":"TVM","x":80,"y":12},{"s":"TVM","x":85,"y":13},{"s":"TVM","x":90,"y":14.5},{"s":"TVM","x":95,"y":21},{"s":"TVM","x":100,"y":19},{"s":"TVM","x":105,"y":13},{"s":"TVM","x":110,"y":15},{"s":"TVM","x":120,"y":13},{"s":"TVM","x":130,"y":17},{"s":"TVM","x":135,"y":9},{"s":"TVM","x":140,"y":14},{"s":"TVM","x":145,"y":22},{"s":"TVM","x":150,"y":14},{"s":"TVM","x":160,"y":19},{"s":"TVM","x":165,"y":12},{"s":"TVM","x":170,"y":14},{"s":"TVM","x":175,"y":22},{"s":"TVM","x":180,"y":12},{"s":"TVM","x":190,"y":15},{"s":"TVM","x":195,"y":17},{"s":"TVM","x":200,"y":9},{"s":"TVM","x":210,"y":13},{"s":"TVM","x":215,"y":20},{"s":"TVM","x":220,"y":16},{"s":"TVM","x":230,"y":12},{"s":"TVM","x":235,"y":17},{"s":"TVM","x":240,"y":6},{"s":"TVM","x":245,"y":13},{"s":"TVM","x":250,"y":13}
],
"rgte":[
{"s":"Academic","x":0,"y":65.4},{"s":"Academic","x":2.5,"y":67},{"s":"Academic","x":5,"y":68},{"s":"Academic","x":10,"y":68.5},{"s":"Academic","x":20,"y":69},{"s":"Academic","x":30,"y":69.3},{"s":"Academic","x":40,"y":69.5},{"s":"Academic","x":50,"y":69.5},{"s":"Academic","x":60,"y":69.7},{"s":"Academic","x":70,"y":69.8},{"s":"Academic","x":80,"y":70},{"s":"Academic","x":90,"y":70.2},{"s":"Academic","x":100,"y":70.3},{"s":"Academic","x":110,"y":70.5},{"s":"Academic","x":120,"y":70.6},{"s":"Academic","x":130,"y":70.7},{"s":"Academic","x":140,"y":70.8},{"s":"Academic","x":150,"y":70.9},{"s":"Academic","x":160,"y":71},{"s":"Academic","x":170,"y":71},{"s":"Academic","x":180,"y":71.1},{"s":"Academic","x":190,"y":71.1},{"s":"Academic","x":200,"y":71.3},{"s":"Academic","x":210,"y":71.5},{"s":"Academic","x":220,"y":71.6},{"s":"Academic","x":230,"y":71.8},{"s":"Academic","x":240,"y":71.9},{"s":"Academic","x":250,"y":72},
{"s":"ACL","x":0,"y":66},{"s":"ACL","x":2.5,"y":67.5},{"s":"ACL","x":5,"y":68.5},{"s":"ACL","x":10,"y":69},{"s":"ACL","x":20,"y":69.3},{"s":"ACL","x":30,"y":69.5},{"s":"ACL","x":40,"y":69.8},{"s":"ACL","x":50,"y":69.8},{"s":"ACL","x":60,"y":70},{"s":"ACL","x":70,"y":70.1},{"s":"ACL","x":80,"y":70.3},{"s":"ACL","x":90,"y":70.4},{"s":"ACL","x":100,"y":70.5},{"s":"ACL","x":110,"y":70.7},{"s":"ACL","x":120,"y":70.8},{"s":"ACL","x":130,"y":71},{"s":"ACL","x":140,"y":71},{"s":"ACL","x":150,"y":71},{"s":"ACL","x":160,"y":71.1},{"s":"ACL","x":170,"y":71.1},{"s":"ACL","x":180,"y":71.2},{"s":"ACL","x":190,"y":71.2},{"s":"ACL","x":200,"y":71.3},{"s":"ACL","x":210,"y":71},{"s":"ACL","x":220,"y":70.5},{"s":"ACL","x":225,"y":71},{"s":"ACL","x":230,"y":70.2},{"s":"ACL","x":240,"y":69.5},{"s":"ACL","x":245,"y":69},{"s":"ACL","x":250,"y":69.8},
{"s":"FBGEMM","x":0,"y":64.5},{"s":"FBGEMM","x":2.5,"y":66},{"s":"FBGEMM","x":5,"y":67},{"s":"FBGEMM","x":10,"y":67.5},{"s":"FBGEMM","x":20,"y":68},{"s":"FBGEMM","x":30,"y":68.3},{"s":"FBGEMM","x":40,"y":68.5},{"s":"FBGEMM","x":50,"y":68.7},{"s":"FBGEMM","x":60,"y":68.8},{"s":"FBGEMM","x":70,"y":69},{"s":"FBGEMM","x":80,"y":69},{"s":"FBGEMM","x":90,"y":69.2},{"s":"FBGEMM","x":100,"y":69.3},{"s":"FBGEMM","x":110,"y":69.3},{"s":"FBGEMM","x":120,"y":69.4},{"s":"FBGEMM","x":130,"y":69.5},{"s":"FBGEMM","x":140,"y":69.6},{"s":"FBGEMM","x":150,"y":69.6},{"s":"FBGEMM","x":160,"y":69.7},{"s":"FBGEMM","x":170,"y":69.7},{"s":"FBGEMM","x":180,"y":69.8},{"s":"FBGEMM","x":190,"y":69.7},{"s":"FBGEMM","x":200,"y":69.8},{"s":"FBGEMM","x":210,"y":69.5},{"s":"FBGEMM","x":220,"y":69.3},{"s":"FBGEMM","x":230,"y":68.5},{"s":"FBGEMM","x":240,"y":67.5},{"s":"FBGEMM","x":245,"y":68.8},{"s":"FBGEMM","x":250,"y":67.5},
{"s":"SNPE","x":0,"y":62},{"s":"SNPE","x":2.5,"y":64.5},{"s":"SNPE","x":5,"y":66},{"s":"SNPE","x":10,"y":66.8},{"s":"SNPE","x":20,"y":67.2},{"s":"SNPE","x":30,"y":67.8},{"s":"SNPE","x":40,"y":68},{"s":"SNPE","x":50,"y":68.2},{"s":"SNPE","x":60,"y":68.3},{"s":"SNPE","x":70,"y":68.4},{"s":"SNPE","x":80,"y":68.5},{"s":"SNPE","x":90,"y":68.7},{"s":"SNPE","x":100,"y":68.8},{"s":"SNPE","x":110,"y":68.9},{"s":"SNPE","x":120,"y":69},{"s":"SNPE","x":130,"y":69.2},{"s":"SNPE","x":140,"y":69.2},{"s":"SNPE","x":150,"y":69.3},{"s":"SNPE","x":160,"y":69.4},{"s":"SNPE","x":170,"y":69.4},{"s":"SNPE","x":180,"y":69.5},{"s":"SNPE","x":190,"y":69.5},{"s":"SNPE","x":200,"y":69.5},{"s":"SNPE","x":210,"y":69.6},{"s":"SNPE","x":220,"y":69.6},{"s":"SNPE","x":230,"y":69.5},{"s":"SNPE","x":240,"y":69.4},{"s":"SNPE","x":250,"y":69.4},
{"s":"TensorRT","x":0,"y":59.3},{"s":"TensorRT","x":2.5,"y":61.5},{"s":"TensorRT","x":5,"y":63},{"s":"TensorRT","x":10,"y":64.5},{"s":"TensorRT","x":20,"y":65.3},{"s":"TensorRT","x":30,"y":65.8},{"s":"TensorRT","x":40,"y":66},{"s":"TensorRT","x":50,"y":66.3},{"s":"TensorRT","x":60,"y":66.5},{"s":"TensorRT","x":70,"y":66.7},{"s":"TensorRT","x":80,"y":66.8},{"s":"TensorRT","x":90,"y":67},{"s":"TensorRT","x":100,"y":67.2},{"s":"TensorRT","x":110,"y":67.3},{"s":"TensorRT","x":120,"y":67.4},{"s":"TensorRT","x":130,"y":67.6},{"s":"TensorRT","x":140,"y":67.7},{"s":"TensorRT","x":150,"y":67.8},{"s":"TensorRT","x":160,"y":68},{"s":"TensorRT","x":170,"y":68.1},{"s":"TensorRT","x":180,"y":68.2},{"s":"TensorRT","x":190,"y":68.2},{"s":"TensorRT","x":200,"y":68.3},{"s":"TensorRT","x":210,"y":68.2},{"s":"TensorRT","x":220,"y":68},{"s":"TensorRT","x":230,"y":67.8},{"s":"TensorRT","x":240,"y":67},{"s":"TensorRT","x":250,"y":66.5},
{"s":"TVM","x":0,"y":37},{"s":"TVM","x":2.5,"y":44.5},{"s":"TVM","x":5,"y":39},{"s":"TVM","x":7.5,"y":45},{"s":"TVM","x":10,"y":52},{"s":"TVM","x":12.5,"y":52.5},{"s":"TVM","x":15,"y":56.5},{"s":"TVM","x":17.5,"y":54},{"s":"TVM","x":20,"y":55},{"s":"TVM","x":22.5,"y":51.5},{"s":"TVM","x":25,"y":51},{"s":"TVM","x":27.5,"y":50.5},{"s":"TVM","x":30,"y":56},{"s":"TVM","x":32.5,"y":56.5},{"s":"TVM","x":35,"y":53},{"s":"TVM","x":37.5,"y":57.5},{"s":"TVM","x":40,"y":59.5},{"s":"TVM","x":45,"y":57.5},{"s":"TVM","x":50,"y":55},{"s":"TVM","x":55,"y":53},{"s":"TVM","x":60,"y":45},{"s":"TVM","x":62.5,"y":39},{"s":"TVM","x":65,"y":47},{"s":"TVM","x":70,"y":55},{"s":"TVM","x":75,"y":56},{"s":"TVM","x":80,"y":58},{"s":"TVM","x":85,"y":59},{"s":"TVM","x":90,"y":57.5},{"s":"TVM","x":95,"y":55},{"s":"TVM","x":100,"y":60},{"s":"TVM","x":105,"y":55.5},{"s":"TVM","x":110,"y":59.5},{"s":"TVM","x":115,"y":57},{"s":"TVM","x":120,"y":59.5},{"s":"TVM","x":125,"y":58.5},{"s":"TVM","x":130,"y":59},{"s":"TVM","x":135,"y":56},{"s":"TVM","x":140,"y":61.5},{"s":"TVM","x":145,"y":60.5},{"s":"TVM","x":150,"y":61},{"s":"TVM","x":155,"y":59},{"s":"TVM","x":160,"y":60.5},{"s":"TVM","x":170,"y":61},{"s":"TVM","x":175,"y":62},{"s":"TVM","x":180,"y":62},{"s":"TVM","x":185,"y":63.5},{"s":"TVM","x":190,"y":58},{"s":"TVM","x":195,"y":62},{"s":"TVM","x":200,"y":60.5},{"s":"TVM","x":205,"y":63},{"s":"TVM","x":210,"y":61.5},{"s":"TVM","x":215,"y":60},{"s":"TVM","x":220,"y":62},{"s":"TVM","x":225,"y":59},{"s":"TVM","x":230,"y":62.5},{"s":"TVM","x":235,"y":60},{"s":"TVM","x":240,"y":55},{"s":"TVM","x":245,"y":57.5},{"s":"TVM","x":250,"y":61.5}
]
},
"vconcat":[{
"title":{"text":["Figure 7:  Visualization of training and testing accuracy for 6 different setting using DSQ on ResNet-18,","MobileNetV2 and RegNetX-600MF."],"orient":"bottom","anchor":"start","font":"Liberation Serif","fontSize":17,"fontWeight":"normal","color":"#000","lineHeight":23,"offset":18,"dx":5},
"columns":3,
"spacing":{"row":34,"column":45},
"bounds":"flush",
"concat":[
{"data":{"name":"r18tr"},"title":"ResNet-18","width":226,"height":173,"mark":{"type":"line","clip":true,"strokeWidth":1},
"encoding":{"x":{"field":"x","type":"quantitative","scale":{"domain":[0,260],"nice":false},"axis":{"values":[0,50,100,150,200,250],"labelExpr":"datum.value==0?'0':datum.value+'K'","title":"Iterations"}},
"y":{"field":"y","type":"quantitative","scale":{"domain":[53,71],"nice":false,"zero":false},"axis":{"values":[54,58,62,66,70],"title":"Training Accuracy (%)"}},
"color":{"field":"s","type":"nominal","sort":null,"scale":{"domain":["Academic","ACL","FBGEMM","SNPE","TensorRT","TVM"],"range":["#ff0000","#0000ff","#008000","#ffa500","#1e90ff","#800080"]},"legend":{"title":null,"orient":"none","legendX":55,"legendY":-46,"direction":"horizontal"}}}},
{"data":{"name":"mbtr"},"title":"MobileNetV2","width":226,"height":173,"mark":{"type":"line","clip":true,"strokeWidth":1},
"encoding":{"x":{"field":"x","type":"quantitative","scale":{"domain":[0,260],"nice":false},"axis":{"values":[0,50,100,150,200,250],"labelExpr":"datum.value==0?'0':datum.value+'K'","title":"Iterations"}},
"y":{"field":"y","type":"quantitative","scale":{"domain":[18.5,66],"nice":false,"zero":false},"axis":{"values":[19,30,41,52,63],"title":null}},
"color":{"field":"s","type":"nominal","sort":null,"scale":{"domain":["Academic","ACL","FBGEMM","SNPE","TensorRT","TVM"],"range":["#ff0000","#0000ff","#008000","#ffa500","#1e90ff","#800080"]},"legend":{"title":null,"orient":"none","legendX":55,"legendY":-46,"direction":"horizontal"}}}},
{"data":{"name":"rgtr"},"title":"RegNetX-600MF","width":226,"height":173,"mark":{"type":"line","clip":true,"strokeWidth":1},
"encoding":{"x":{"field":"x","type":"quantitative","scale":{"domain":[0,260],"nice":false},"axis":{"values":[0,50,100,150,200,250],"labelExpr":"datum.value==0?'0':datum.value+'K'","title":"Iterations"}},
"y":{"field":"y","type":"quantitative","scale":{"domain":[56,74],"nice":false,"zero":false},"axis":{"values":[57,61,65,69,73],"title":null}},
"color":{"field":"s","type":"nominal","sort":null,"scale":{"domain":["Academic","ACL","FBGEMM","SNPE","TensorRT","TVM"],"range":["#ff0000","#0000ff","#008000","#ffa500","#1e90ff","#800080"]},"legend":{"title":null,"orient":"none","legendX":55,"legendY":-46,"direction":"horizontal"}}}},
{"data":{"name":"r18te"},"width":226,"height":176,"mark":{"type":"line","clip":true,"strokeWidth":1},
"encoding":{"x":{"field":"x","type":"quantitative","scale":{"domain":[0,260],"nice":false},"axis":{"values":[0,50,100,150,200,250],"labelExpr":"datum.value==0?'0':datum.value+'K'","title":"Iterations"}},
"y":{"field":"y","type":"quantitative","scale":{"domain":[57,71.1],"nice":false,"zero":false},"axis":{"values":[58,61,64,67,70],"title":"Testing Accuracy (%)"}},
"color":{"field":"s","type":"nominal","sort":null,"scale":{"domain":["Academic","ACL","FBGEMM","SNPE","TensorRT","TVM"],"range":["#ff0000","#0000ff","#008000","#ffa500","#1e90ff","#800080"]},"legend":{"title":null,"orient":"none","legendX":55,"legendY":-46,"direction":"horizontal"}}}},
{"data":{"name":"mbte"},"width":226,"height":176,"mark":{"type":"line","clip":true,"strokeWidth":1},
"encoding":{"x":{"field":"x","type":"quantitative","scale":{"domain":[0,260],"nice":false},"axis":{"values":[0,50,100,150,200,250],"labelExpr":"datum.value==0?'0':datum.value+'K'","title":"Iterations"}},
"y":{"field":"y","type":"quantitative","scale":{"domain":[0.8,71.1],"nice":false,"zero":false},"axis":{"values":[2,19,36,53,70],"title":null}},
"color":{"field":"s","type":"nominal","sort":null,"scale":{"domain":["Academic","ACL","FBGEMM","SNPE","TensorRT","TVM"],"range":["#ff0000","#0000ff","#008000","#ffa500","#1e90ff","#800080"]},"legend":{"title":null,"orient":"none","legendX":55,"legendY":-46,"direction":"horizontal"}}}},
{"data":{"name":"rgte"},"width":226,"height":176,"mark":{"type":"line","clip":true,"strokeWidth":1},
"encoding":{"x":{"field":"x","type":"quantitative","scale":{"domain":[0,260],"nice":false},"axis":{"values":[0,50,100,150,200,250],"labelExpr":"datum.value==0?'0':datum.value+'K'","title":"Iterations"}},
"y":{"field":"y","type":"quantitative","scale":{"domain":[36.9,73],"nice":false,"zero":false},"axis":{"values":[38,46,54,62,70],"title":null}},
"color":{"field":"s","type":"nominal","sort":null,"scale":{"domain":["Academic","ACL","FBGEMM","SNPE","TensorRT","TVM"],"range":["#ff0000","#0000ff","#008000","#ffa500","#1e90ff","#800080"]},"legend":{"title":null,"orient":"none","legendX":55,"legendY":-46,"direction":"horizontal"}}}}
]
}],
"config":{
"font":"DejaVu Sans",
"view":{"stroke":"#555555","strokeWidth":1},
"axis":{"labelFont":"DejaVu Sans","labelFontSize":13,"labelColor":"#000000","titleFont":"DejaVu Sans","titleFontSize":13,"titleFontWeight":"normal","titleColor":"#000000","gridColor":"#d0d0d0","gridWidth":1,"domain":false,"tickColor":"#333333","tickSize":3.5,"labelPadding":2,"labelFlush":false,"labelOverlap":false,"titlePadding":3},
"title":{"font":"DejaVu Sans","fontSize":13,"fontWeight":"normal","offset":4,"color":"#000000"},
"legend":{"symbolType":"M-1,0H3","symbolSize":196,"symbolStrokeWidth":1.5,"labelFont":"DejaVu Sans","labelFontSize":13,"labelColor":"#000000","labelOffset":25,"columnPadding":26,"padding":5,"strokeColor":"#cccccc","fillColor":"#ffffff","cornerRadius":3}
}
}
